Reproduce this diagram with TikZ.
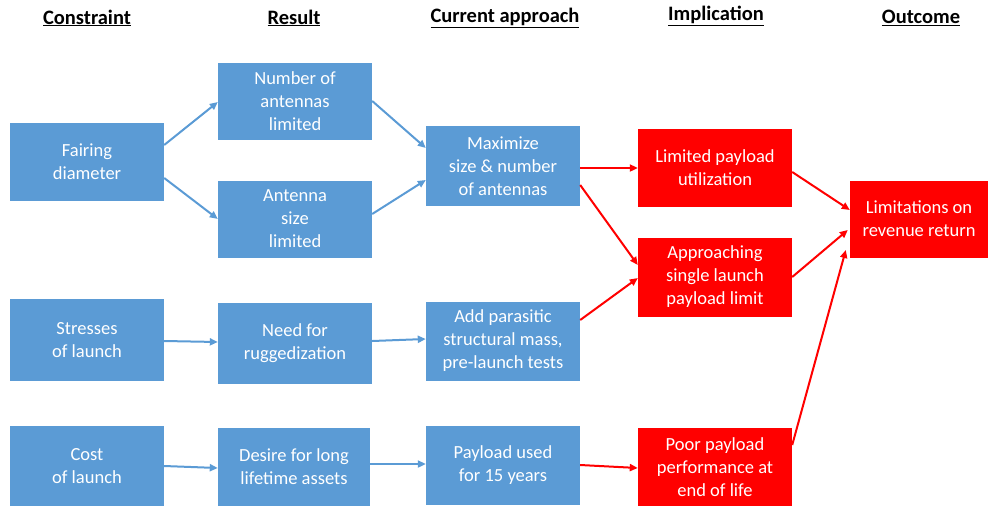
\documentclass[tikz,border=0pt]{standalone}
\usepackage{fontspec}
\setmainfont{Carlito}
\usetikzlibrary{arrows.meta}
\definecolor{bbox}{HTML}{5B9BD5}
\definecolor{rbox}{HTML}{FF0000}
\tikzset{
  box/.style={rectangle, minimum width=154pt, minimum height=78pt, inner sep=0pt,
    text=white, align=center, font=\fontsize{18.5}{23}\selectfont},
  bluebox/.style={box, fill=bbox},
  redbox/.style={box, fill=rbox},
  hdr/.style={font=\fontsize{20.5}{24}\selectfont\bfseries, inner sep=0pt},
  barrow/.style={draw=bbox, line width=2pt, -{Triangle[length=8pt,width=7pt]}},
  rarrow/.style={draw=rbox, line width=2pt, -{Triangle[length=8pt,width=7pt]}},
}
\begin{document}
\begin{tikzpicture}[x=1pt,y=-1pt]
\useasboundingbox (0,0) rectangle (992,506);
% headers
\node[hdr] (h1) at (87,18) {\underline{Constraint}};
\node[hdr] (h2) at (294,18) {\underline{Result}};
\node[hdr] (h3) at (505,18) {\underline{Current approach}};
\node[hdr] (h4) at (716,16) {\underline{Implication}};
\node[hdr] (h5) at (921,18) {\underline{Outcome}};
% column 1
\node[bluebox] (fair) at (87,162) {Fairing\\diameter};
\node[bluebox, minimum height=82pt] (stress) at (87,340) {Stresses\\of launch};
\node[bluebox, minimum height=80pt] (cost) at (87,466) {Cost\\of launch};
% column 2
\node[bluebox, minimum height=77pt] (num) at (295,101) {Number of\\antennas\\limited};
\node[bluebox, minimum height=77pt] (size) at (295,219) {Antenna\\size\\limited};
\node[bluebox, minimum height=81pt] (rugg) at (295,343) {Need for\\ruggedization};
\node[bluebox, minimum width=152pt] (desire) at (294,467) {Desire for long\\lifetime assets};
% column 3
\node[bluebox, minimum height=80pt] (maxi) at (503,166) {Maximize\\size \& number\\of antennas};
\node[bluebox, minimum height=79pt] (add) at (503,341) {Add parasitic\\structural mass,\\pre-launch tests};
\node[bluebox, minimum height=79pt] (used) at (503,465) {Payload used\\for 15 years};
% column 4
\node[redbox] (lim) at (715,168) {Limited payload\\utilization};
\node[redbox, minimum height=79pt] (appr) at (715,277) {Approaching\\single launch\\payload limit};
\node[redbox] (poor) at (715,467) {Poor payload\\performance at\\end of life};
% column 5
\node[redbox, minimum width=138pt, minimum height=77pt] (out) at (919,219) {Limitations on\\revenue return};
% blue connectors
\draw[barrow] ([yshift=17pt]fair.east) -- ([yshift=-1pt]num.west);
\draw[barrow] ([yshift=-16pt]fair.east) -- (size.west);
\draw[barrow] (num.east) -- ([yshift=18pt]maxi.west);
\draw[barrow] ([yshift=5pt]size.east) -- ([yshift=-14pt]maxi.west);
\draw[barrow] ([yshift=-1pt]stress.east) -- ([yshift=1pt]rugg.west);
\draw[barrow] ([yshift=2pt]rugg.east) -- ([yshift=2pt]add.west);
\draw[barrow] (cost.east) -- ([yshift=-1pt]desire.west);
\draw[barrow] ([yshift=3pt]desire.east) -- ([yshift=1pt]used.west);
% red connectors
\draw[rarrow] ([yshift=-2pt]maxi.east) -- (lim.west);
\draw[rarrow] ([yshift=-19pt]maxi.east) -- ([yshift=12pt]appr.west);
\draw[rarrow] ([yshift=21pt]add.east) -- ([yshift=-1pt]appr.west);
\draw[rarrow] (used.east) -- ([yshift=-1pt]poor.west);
\draw[rarrow] ([yshift=-4pt]lim.east) -- ([yshift=9pt]out.west);
\draw[rarrow] (appr.east) -- ([xshift=-2pt,yshift=-11pt]out.west);
\draw[rarrow] ([yshift=22pt]poor.east) -- ([xshift=-4pt,yshift=-31pt]out.west);
\end{tikzpicture}
\end{document}
